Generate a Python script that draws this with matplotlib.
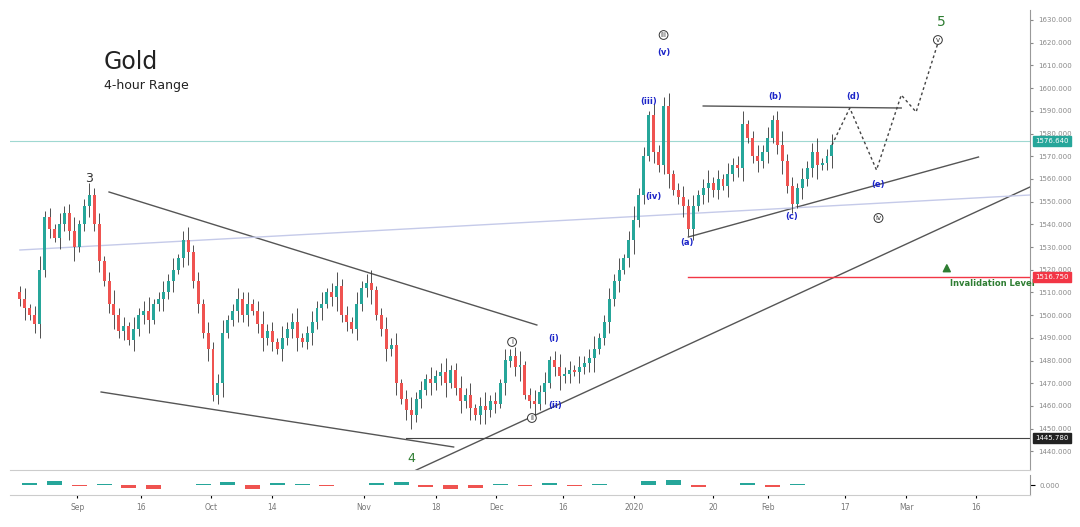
import matplotlib.pyplot as plt
import numpy as np

# closes, one candle per step
closes = [1507, 1503, 1500, 1496, 1520, 1543, 1538, 1534, 1540, 1545, 1537, 1530, 1540, 1548, 1553, 1540,
          1524, 1515, 1505, 1500, 1493, 1495, 1489, 1494, 1500, 1502, 1498, 1505, 1507, 1510, 1515, 1520,
          1525, 1533, 1528, 1515, 1505, 1492, 1485, 1465, 1470, 1492, 1498, 1502, 1507, 1500, 1505, 1502,
          1496, 1490, 1493, 1488, 1485, 1490, 1494, 1497, 1490, 1488, 1492, 1497, 1503, 1505, 1510, 1508,
          1513, 1500, 1497, 1494, 1505, 1512, 1514, 1511, 1500, 1494, 1485, 1487, 1470, 1463, 1458, 1456,
          1463, 1467, 1472, 1470, 1473, 1475, 1470, 1476, 1468, 1462, 1465, 1459, 1456, 1460, 1458, 1462,
          1461, 1470, 1480, 1482, 1477, 1478, 1465, 1462, 1461, 1466, 1470, 1480, 1477, 1473, 1474, 1476,
          1475, 1477, 1479, 1481, 1485, 1490, 1497, 1507, 1515, 1520, 1525, 1533, 1542, 1553, 1570, 1588,
          1572, 1566, 1592, 1562, 1555, 1552, 1548, 1538, 1548, 1553, 1556, 1558, 1555, 1560, 1557, 1562,
          1566, 1565, 1584, 1578, 1570, 1568, 1572, 1578, 1586, 1575, 1568, 1557, 1549, 1556, 1560, 1565,
          1572, 1566, 1567, 1570, 1575]
first_open = 1510
wicks = [3, 5, 2, 4, 6, 3, 4, 2, 5, 3, 4, 6, 2, 3, 5]

# oscillator, one bar per 5 candles
osc = [2, 4, -1, 1, -3, -4, 0, 1, 3, -4, 2, 1, -1, 0, 2, 3, -2, -4, -3, 1, -1, 2, -1, 1, 0,
       4, 5, -2, 0, 2, -2, 1, 0]

date_pos = [11.6, 24.4, 38.6, 51, 69.4, 84, 96.2, 109.6, 124, 140, 151, 166.6, 179, 193]
date_labels = ['Sep', '16', 'Oct', '14', 'Nov', '18', 'Dec', '16', '2020', '20', 'Feb', '17', 'Mar', '16']

price_tags = [(1576.64, '#26a69a'), (1516.75, '#f23645'), (1445.78, '#222222')]

up_c, dn_c = '#26a69a', '#ef5350'


def px(x):
    return (x - 10) / 5


def py(y):
    return 1630 - (y - 20) / 2.27


fig = plt.figure(figsize=(10.8, 5.27), dpi=100)
ax = fig.add_axes([10 / 1080, 1 - 470 / 527, 1020 / 1080, 460 / 527])
ax.set_xlim(px(0), px(1030))
ax.set_ylim(py(470), py(10))

opens = [first_open] + closes[:-1]
for i, (o, c) in enumerate(zip(opens, closes)):
    col = up_c if c >= o else dn_c
    w = wicks[i % len(wicks)]
    ax.vlines(i, min(o, c) - w, max(o, c) + w, color='#333333', lw=0.6, zorder=3)
    ax.bar(i, max(abs(c - o), 0.6), bottom=min(o, c), width=0.6, color=col, zorder=4, lw=0)


def line(p1, p2, **kw):
    ax.plot([px(p1[0]), px(p2[0])], [py(p1[1]), py(p2[1])], **kw)


gray = dict(color='#555555', lw=1)
line((100, 192), (532, 325), **gray)
line((92, 392), (448, 447), **gray)
line((395, 477), (1030, 187), **gray)
line((685, 237), (978, 157), **gray)
line((700, 106), (900, 108), **gray)
line((10, 250), (1030, 195), color='#c5cae9', lw=1)
ax.axhline(1576.64, color='#9fd8d1', lw=0.8)
ax.plot([px(685), px(1030)], [1516.75, 1516.75], color='#f23645', lw=1)
ax.plot([px(400), px(1030)], [1445.78, 1445.78], color='#444444', lw=0.8)

proj_x = [830, 848, 875, 900, 915, 938]
proj_y = [145, 108, 170, 95, 112, 40]
ax.plot([px(x) for x in proj_x], [py(y) for y in proj_y], color='#444444', lw=1, ls=(0, (2, 2)))

ax.text(px(95), py(62), 'Gold', fontsize=17, va='center', color='#222222')
ax.text(px(95), py(86), '4-hour Range', fontsize=9, va='center', color='#222222')
ax.text(px(80), py(178), '3', fontsize=9, ha='center', va='center', color='#333333')
ax.text(px(405), py(458), '4', fontsize=9, ha='center', va='center', color='#2e7d32')
ax.text(px(940), py(22), '5', fontsize=10, ha='center', va='center', color='#2e7d32')

blue = [('(v)', 660, 53), ('(iii)', 645, 102), ('(iv)', 650, 197), ('(a)', 684, 242), ('(b)', 773, 97),
        ('(c)', 789, 216), ('(d)', 851, 97), ('(e)', 877, 185), ('(i)', 549, 338), ('(ii)', 550, 406)]
for t, x, y in blue:
    ax.text(px(x), py(y), t, fontsize=6, ha='center', va='center', color='#1a23c8', fontweight='bold')
circ = [('iii', 660, 35), ('iv', 877, 218), ('v', 937, 40), ('i', 507, 342), ('ii', 527, 418)]
for t, x, y in circ:
    ax.text(px(x), py(y), t, fontsize=5, ha='center', va='center', color='#333333',
            bbox=dict(boxstyle='circle,pad=0.2', fc='white', ec='#333333', lw=0.7))

ax.annotate('', xy=(px(946), py(262)), xytext=(px(946), py(274)),
            arrowprops=dict(arrowstyle='simple', color='#2e7d32'))
ax.text(px(992), py(284), 'Invalidation Level', fontsize=6, ha='center', va='center',
        color='#2e7d32', fontweight='bold')

ax.yaxis.tick_right()
ax.set_yticks(np.arange(1440, 1631, 10))
ax.set_yticklabels([f'{v:.3f}' for v in np.arange(1440, 1631, 10)], fontsize=5, color='#888888')
ax.tick_params(axis='y', length=2, color='#888888', pad=4)
ax.set_xticks([])
for v, c in price_tags:
    ax.text(1.005, v, f'{v:.3f}', transform=ax.get_yaxis_transform(), fontsize=5, color='white',
            va='center', ha='left', bbox=dict(boxstyle='square,pad=0.3', fc=c, ec=c))
for s in ['left', 'top']:
    ax.spines[s].set_visible(False)
ax.spines['right'].set_color('#999999')
ax.spines['bottom'].set_color('#cccccc')

osc_ax = fig.add_axes([10 / 1080, 1 - 495 / 527, 1020 / 1080, 20 / 527])
osc_ax.set_xlim(px(0), px(1030))
osc_ax.set_ylim(-10, 10)
ox = np.arange(len(osc)) * 5 + 2
osc_ax.bar(ox, osc, width=3, color=[up_c if v > 0 else dn_c for v in osc], lw=0)
osc_ax.yaxis.tick_right()
osc_ax.set_yticks([0])
osc_ax.set_yticklabels(['0.000'], fontsize=5, color='#888888')
osc_ax.set_xticks(date_pos)
osc_ax.set_xticklabels(date_labels, fontsize=5.5, color='#777777')
osc_ax.tick_params(axis='x', length=2, pad=4)
for s in ['left', 'top']:
    osc_ax.spines[s].set_visible(False)
osc_ax.spines['right'].set_color('#999999')
osc_ax.spines['bottom'].set_color('#cccccc')

fig.savefig('out.png', dpi=100)
